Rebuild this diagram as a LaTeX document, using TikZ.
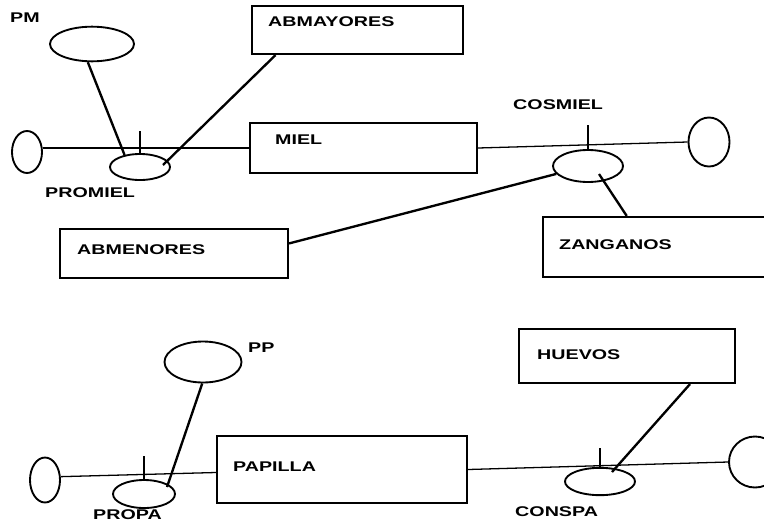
\documentclass[tikz,border=0pt]{standalone}
\usepackage{fontspec}
\newfontfamily\labfont[FakeStretch=1.4]{Liberation Sans}
\usetikzlibrary{shapes.geometric}
\begin{document}
\begin{tikzpicture}[x=0.03cm,y=-0.03cm,
  ell/.style={draw,ellipse,line width=1.6pt,inner sep=0pt},
  levelbox/.style={draw,rectangle,line width=1.8pt,inner sep=0pt},
  flowline/.style={line width=1.1pt},
  link/.style={line width=2pt},
  tick/.style={line width=1.2pt},
  lab/.style={inner sep=0pt,anchor=west,font=\labfont\bfseries\fontsize{12}{14}\selectfont}]
\useasboundingbox (0,0) rectangle (764,526);
\clip (0,0) rectangle (764,526);
\fill[white] (0,0) rectangle (764,526);
% ---------- top system ----------
\node[ell,minimum width=2.52cm,minimum height=1.04cm] (pm) at (92,44) {};
\node[lab] (pmlab) at (10,18) {PM};
\node[ell,minimum width=0.9cm,minimum height=1.26cm] (cloud1) at (27,152) {};
\node[ell,minimum width=1.8cm,minimum height=0.78cm] (promiel) at (140,167) {};
\node[lab] (promiellab) at (45,193) {PROMIEL};
\node[levelbox,minimum width=6.33cm,minimum height=1.44cm] (abmay) at (357.5,30) {};
\node[lab] (abmaylab) at (268,22) {ABMAYORES};
\node[levelbox,minimum width=6.81cm,minimum height=1.5cm] (miel) at (363.5,148) {};
\node[lab] (miellab) at (275,140) {MIEL};
\node[ell,minimum width=2.1cm,minimum height=0.96cm] (cosmiel) at (588,166) {};
\node[lab] (cosmiellab) at (513,105) {COSMIEL};
\node[ell,minimum width=1.23cm,minimum height=1.47cm] (cloud2) at (709,142) {};
\node[levelbox,minimum width=6.84cm,minimum height=1.47cm] (abmen) at (174,253.5) {};
\node[lab] (abmenlab) at (77,250) {ABMENORES};
\node[levelbox,minimum width=7.41cm,minimum height=1.8cm] (zang) at (666.5,247) {};
\node[lab] (zanglab) at (559,245) {ZANGANOS};
\coordinate (promielin) at (163,165);
\coordinate (cosmielin) at (599,174);
\draw[flowline] (cloud1.east |- miel.west) -- (miel.west);
\draw[flowline] (miel.east) -- (cloud2.west);
\draw[tick] (promiel.north) -- ++(0,-22);
\draw[tick] (cosmiel.north) -- ++(0,-24);
\draw[link] (pm.257) -- (promiel.142);
\draw[link] (abmay.197.6) -- (promielin);
\draw[link] (cosmiel.194) -- (abmen.5.8);
\draw[link] (cosmielin) -- (zang.142.8);
% ---------- bottom system ----------
\node[ell,minimum width=2.31cm,minimum height=1.23cm] (pp) at (203,362) {};
\node[lab] (pplab) at (248,348) {PP};
\node[ell,minimum width=0.9cm,minimum height=1.35cm] (cloud3) at (45,480) {};
\node[ell,minimum width=1.86cm,minimum height=0.84cm] (propa) at (144,494) {};
\node[lab] (propalab) at (93,515) {PROPA};
\node[levelbox,minimum width=7.5cm,minimum height=2.01cm] (papilla) at (342,469.5) {};
\node[lab] (papillalab) at (233,467) {PAPILLA};
\node[levelbox,minimum width=6.48cm,minimum height=1.62cm] (huevos) at (627,356) {};
\node[lab] (huevoslab) at (537,355) {HUEVOS};
\node[ell,minimum width=2.1cm,minimum height=0.82cm] (conspa) at (600,481.5) {};
\node[lab] (conspalab) at (515,512) {CONSPA};
\node[ell,minimum width=1.56cm,minimum height=1.53cm] (cloud4) at (755,462) {};
\coordinate (propain) at (167,487);
\coordinate (conspain) at (612,472);
\draw[flowline] (cloud3.12) -- ([yshift=-0.09cm]papilla.west);
\draw[flowline] (papilla.east) -- (cloud4.west);
\draw[tick] (propa.north) -- ++(0,-23);
\draw[tick] (conspa.north) -- ++(0,-19);
\draw[link] (pp.268) -- (propain);
\draw[link] (huevos.336.1) -- (conspain);
\end{tikzpicture}
\end{document}
